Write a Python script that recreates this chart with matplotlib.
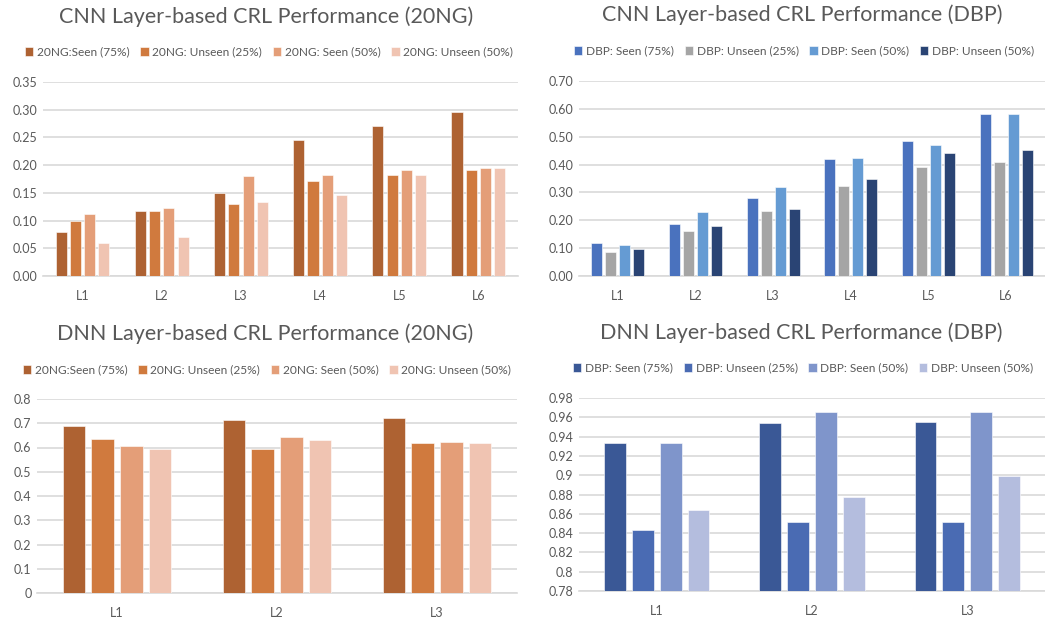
import matplotlib
matplotlib.use("Agg")
import matplotlib.pyplot as plt
import numpy as np

plt.rcParams['font.family'] = ['Lato', 'DejaVu Sans']

# ---------------- data ----------------
cnn_layers = ["L1", "L2", "L3", "L4", "L5", "L6"]
dnn_layers = ["L1", "L2", "L3"]

ng_labels = ["20NG:Seen (75%)", "20NG: Unseen (25%)", "20NG: Seen (50%)", "20NG: Unseen (50%)"]
dbp_labels = ["DBP: Seen (75%)", "DBP: Unseen (25%)", "DBP: Seen (50%)", "DBP: Unseen (50%)"]

cnn_20ng_seen75 = [0.080, 0.117, 0.150, 0.245, 0.270, 0.295]
cnn_20ng_unseen25 = [0.100, 0.117, 0.130, 0.172, 0.183, 0.191]
cnn_20ng_seen50 = [0.111, 0.122, 0.181, 0.183, 0.192, 0.194]
cnn_20ng_unseen50 = [0.060, 0.071, 0.133, 0.147, 0.183, 0.194]

cnn_dbp_seen75 = [0.118, 0.185, 0.279, 0.419, 0.486, 0.580]
cnn_dbp_unseen25 = [0.086, 0.163, 0.235, 0.324, 0.392, 0.408]
cnn_dbp_seen50 = [0.112, 0.230, 0.319, 0.424, 0.469, 0.580]
cnn_dbp_unseen50 = [0.097, 0.179, 0.241, 0.347, 0.442, 0.453]

dnn_20ng_seen75 = [0.688, 0.713, 0.720]
dnn_20ng_unseen25 = [0.637, 0.593, 0.618]
dnn_20ng_seen50 = [0.606, 0.643, 0.623]
dnn_20ng_unseen50 = [0.595, 0.630, 0.618]

dnn_dbp_seen75 = [0.933, 0.954, 0.955]
dnn_dbp_unseen25 = [0.843, 0.851, 0.851]
dnn_dbp_seen50 = [0.933, 0.965, 0.966]
dnn_dbp_unseen50 = [0.864, 0.877, 0.899]

ng_colors = ["#AE6232", "#D07A3E", "#E49E78", "#F0C4B2"]
cnn_dbp_colors = ["#4A72BE", "#A5A5A5", "#659BD3", "#2A4474"]
dnn_dbp_colors = ["#3A5896", "#4A6BB3", "#7F95CB", "#B4BDDE"]

W, H = 1045, 618
fig = plt.figure(figsize=(W / 100, H / 100), dpi=100)
fig.patch.set_facecolor("white")

TXT = "#595959"
GRID = "#D9D9D9"


def px_axes(left, right, top, bottom):
    return fig.add_axes([left / W, (H - bottom) / H, (right - left) / W, (bottom - top) / H])


def panel(box, cats, series, labels, colors, ylim, yticks, yfmt, title, title_xy, leg_xy):
    ax = px_axes(*box)
    x = np.arange(len(cats))
    bw, step = 0.14, 0.18
    for i, (vals, lab, col) in enumerate(zip(series, labels, colors)):
        ax.bar(x + (i - 1.5) * step, np.array(vals) - ylim[0], bw, bottom=ylim[0],
               color=col, label=lab, edgecolor="white", linewidth=0.4, zorder=3)
    ax.set_xlim(-0.5, len(cats) - 0.5)
    ax.set_ylim(*ylim)
    ax.set_yticks(yticks)
    ax.set_yticklabels([yfmt(v) for v in yticks])
    ax.set_xticks(x)
    ax.set_xticklabels(cats)
    ax.grid(axis="y", color=GRID, linewidth=1.2, zorder=0)
    ax.set_axisbelow(True)
    for s in ["top", "right", "left"]:
        ax.spines[s].set_visible(False)
    ax.spines["bottom"].set_color(GRID)
    ax.spines["bottom"].set_linewidth(1.2)
    ax.tick_params(axis="both", length=0, labelsize=9, labelcolor=TXT)
    ax.tick_params(axis="x", pad=10)
    ax.tick_params(axis="y", pad=4)
    fig.text(title_xy[0] / W, 1 - title_xy[1] / H, title, ha="center", va="center",
             fontsize=15.5, color=TXT)
    handles, labs = ax.get_legend_handles_labels()
    fig.legend(handles, labs, loc="center", bbox_to_anchor=(leg_xy[0] / W, 1 - leg_xy[1] / H),
               ncol=4, frameon=False, fontsize=8.6, labelcolor=TXT, handlelength=0.7,
               handleheight=0.7, handletextpad=0.3, columnspacing=0.9, borderaxespad=0)
    return ax


panel((43, 518, 82, 276), cnn_layers,
      [cnn_20ng_seen75, cnn_20ng_unseen25, cnn_20ng_seen50, cnn_20ng_unseen50],
      ng_labels, ng_colors, (0, 0.35), np.arange(0, 0.351, 0.05), lambda v: f"{v:.2f}",
      "CNN Layer-based CRL Performance (20NG)", (266, 17), (269, 52))

panel((579, 1045, 81, 276), cnn_layers,
      [cnn_dbp_seen75, cnn_dbp_unseen25, cnn_dbp_seen50, cnn_dbp_unseen50],
      dbp_labels, cnn_dbp_colors, (0, 0.70), np.arange(0, 0.701, 0.10), lambda v: f"{v:.2f}",
      "CNN Layer-based CRL Performance (DBP)", (802, 15), (804, 51))

panel((37, 517, 399, 593), dnn_layers,
      [dnn_20ng_seen75, dnn_20ng_unseen25, dnn_20ng_seen50, dnn_20ng_unseen50],
      ng_labels, ng_colors, (0, 0.8), np.arange(0, 0.801, 0.1), lambda v: f"{v:g}" if v else "0",
      "DNN Layer-based CRL Performance (20NG)", (265, 334), (267, 370))

panel((579, 1045, 398, 591), dnn_layers,
      [dnn_dbp_seen75, dnn_dbp_unseen25, dnn_dbp_seen50, dnn_dbp_unseen50],
      dbp_labels, dnn_dbp_colors, (0.78, 0.98), np.round(np.arange(0.78, 0.981, 0.02), 2),
      lambda v: f"{v:g}",
      "DNN Layer-based CRL Performance (DBP)", (801, 333), (803, 368))

fig.savefig("out.png", dpi=100, facecolor="white")
